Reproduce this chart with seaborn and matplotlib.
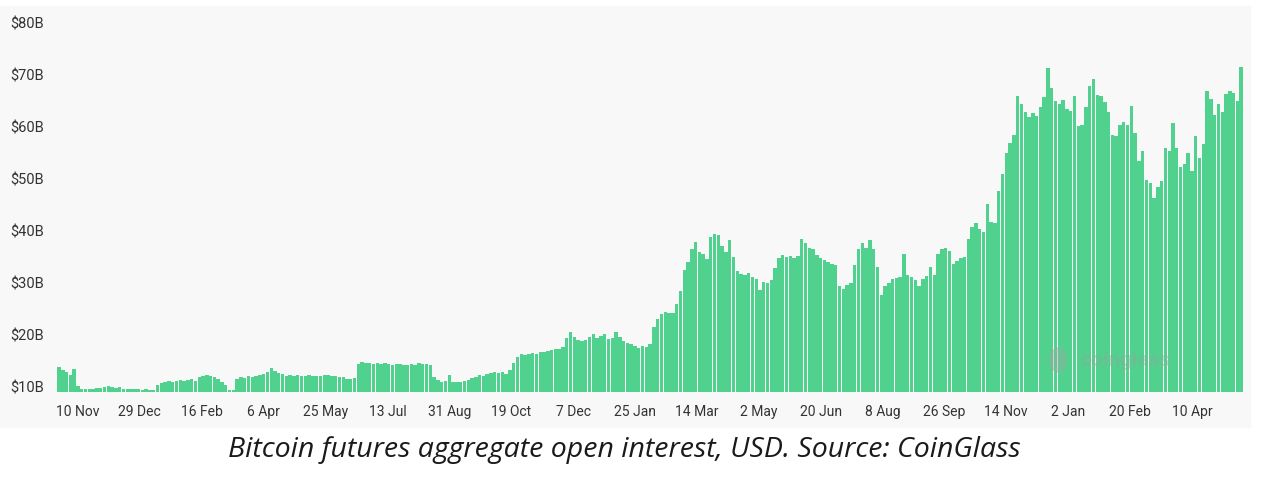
import numpy as np
import pandas as pd
import matplotlib
matplotlib.use("Agg")
import matplotlib.pyplot as plt
from matplotlib.patches import Rectangle, Ellipse
from matplotlib.transforms import ScaledTranslation
import seaborn as sns

# Bitcoin futures aggregate open interest (USD bn), one reading every 3 days
start_date = "2022-10-26"
step_days = 3
oi_billions = [
    14.8, 14.3, 13.9, 13.3, 14.5, 11.2, 10.6, 10.5, 10.6, 10.6,
    10.7, 10.8, 11.0, 11.1, 10.9, 10.8, 10.9, 10.6, 10.6, 10.5,
    10.6, 10.5, 10.4, 10.5, 10.3, 10.3, 11.3, 11.8, 12.0, 12.1,
    12.0, 12.2, 12.3, 12.1, 12.3, 12.6, 12.2, 12.8, 13.0, 13.3,
    13.0, 12.8, 12.6, 12.0, 11.4, 10.4, 10.3, 12.6, 12.9, 12.7,
    13.0, 12.8, 13.1, 13.2, 13.4, 13.9, 14.6, 14.0, 13.6, 13.4,
    13.1, 13.3, 13.0, 13.2, 13.1, 13.0, 13.2, 13.0, 13.1, 13.0,
    13.2, 13.3, 13.0, 13.1, 12.8, 12.9, 12.6, 12.5, 12.7, 15.3,
    15.8, 15.6, 15.5, 15.4, 15.6, 15.3, 15.5, 15.4, 15.2, 15.4,
    15.3, 15.2, 15.2, 15.3, 15.2, 15.6, 15.4, 15.3, 15.2, 12.8,
    12.3, 12.0, 12.1, 13.2, 12.0, 11.9, 12.0, 12.2, 12.4, 12.7,
    12.9, 13.2, 13.0, 13.4, 13.6, 13.8, 13.7, 13.9, 13.5, 14.2,
    15.6, 16.8, 17.3, 17.2, 17.4, 17.6, 17.4, 17.7, 17.8, 17.9,
    18.1, 18.3, 18.2, 18.6, 20.5, 21.5, 20.6, 20.0, 19.9, 20.1,
    20.6, 21.2, 20.5, 20.7, 21.2, 20.3, 20.4, 21.6, 20.6, 19.8,
    19.5, 19.2, 18.9, 18.5, 18.9, 18.7, 19.2, 22.5, 24.0, 25.0,
    25.4, 25.3, 25.2, 27.0, 29.5, 33.5, 35.0, 37.5, 38.9, 37.0,
    36.5, 35.6, 39.8, 40.5, 40.2, 38.2, 37.0, 39.3, 36.0, 33.3,
    32.8, 32.6, 32.9, 32.2, 31.8, 29.7, 31.2, 31.0, 31.6, 33.8,
    35.8, 36.4, 36.0, 36.2, 35.8, 36.3, 39.5, 38.8, 37.8, 37.5,
    36.4, 35.8, 35.5, 35.0, 34.6, 34.5, 30.5, 29.8, 30.6, 31.0,
    34.5, 37.5, 38.8, 37.8, 39.2, 37.5, 34.0, 28.7, 30.5, 31.0,
    31.8, 32.0, 32.2, 36.5, 32.5, 32.2, 31.5, 30.4, 31.8, 32.3,
    34.0, 32.6, 36.5, 37.6, 37.8, 37.2, 34.6, 35.2, 35.8, 36.0,
    39.5, 41.8, 42.6, 41.5, 40.8, 46.3, 42.8, 42.5, 48.8, 52.0,
    56.0, 58.0, 59.5, 67.0, 65.5, 64.0, 63.0, 63.8, 63.2, 65.0,
    66.8, 72.5, 68.5, 66.0, 65.5, 66.2, 64.5, 64.2, 67.0, 61.2,
    61.5, 65.0, 69.0, 70.4, 67.2, 67.0, 65.8, 64.0, 59.6, 59.4,
    61.5, 62.0, 61.4, 65.2, 60.0, 54.5, 56.4, 50.8, 50.2, 47.3,
    49.5, 50.6, 57.0, 56.5, 61.8, 57.0, 53.4, 54.0, 56.0, 52.5,
    59.4, 55.0, 57.8, 68.0, 66.5, 63.4, 65.5, 64.0, 67.5, 68.0,
    67.6, 66.0, 72.6,
]

tick_dates = ["2022-11-10", "2022-12-29", "2023-02-16", "2023-04-06", "2023-05-25",
              "2023-07-13", "2023-08-31", "2023-10-19", "2023-12-07", "2024-01-25",
              "2024-03-14", "2024-05-02", "2024-06-20", "2024-08-08", "2024-09-26",
              "2024-11-14", "2025-01-02", "2025-02-20", "2025-04-10"]
tick_labels = ["10 Nov", "29 Dec", "16 Feb", "6 Apr", "25 May", "13 Jul", "31 Aug",
               "19 Oct", "7 Dec", "25 Jan", "14 Mar", "2 May", "20 Jun", "8 Aug",
               "26 Sep", "14 Nov", "2 Jan", "20 Feb", "10 Apr"]
y_ticks = [10, 20, 30, 40, 50, 60, 70, 80]
caption = "Bitcoin futures aggregate open interest, USD. Source: CoinGlass"

bar_color = "#50d28e"
panel_color = "#f8f8f8"
text_color = "#333333"

sns.set_style("white")
plt.rcParams["font.family"] = ["Roboto", "DejaVu Sans"]

# day offsets from the first reading
t0 = pd.Timestamp(start_date)
days = np.arange(len(oi_billions)) * step_days
df = pd.DataFrame({"day": days, "oi": oi_billions})
tick_pos = [(pd.Timestamp(d) - t0).days for d in tick_dates]

W, H = 1280, 482
fig = plt.figure(figsize=(W / 100, H / 100), dpi=100, facecolor="white")
fig.patches.append(Rectangle((0, 1 - 427 / H), 1250 / W, (427 - 6) / H,
                             transform=fig.transFigure, color=panel_color, zorder=-5))

ax = fig.add_axes([56 / W, 1 - 392 / H, 1190 / W, (392 - 8) / H])
ax.set_facecolor("none")
ax.set_zorder(2)
sns.barplot(data=df, x="day", y="oi", native_scale=True, width=0.9,
            color=bar_color, saturation=1, linewidth=0, errorbar=None, ax=ax)

ax.set_xlim(-2.4, 939.8)
ax.set_ylim(10, 84)
for s in ax.spines.values():
    s.set_visible(False)
ax.set_xlabel("")
ax.set_ylabel("")

ax.set_xticks(tick_pos, labels=tick_labels)
ax.tick_params(axis="x", length=0, pad=9.5, labelsize=10, labelcolor=text_color)
ax.set_yticks(y_ticks, labels=[f"${v}B" for v in y_ticks])
ax.tick_params(axis="y", length=0, pad=33, labelsize=10.5, labelcolor=text_color)
lift = ScaledTranslation(0, 4 / 100, fig.dpi_scale_trans)
for lab in ax.get_yticklabels():
    lab.set_ha("left")
    lab.set_va("center")
    lab.set_transform(lab.get_transform() + lift)

# faint watermark
fig.patches.append(Ellipse((1058 / W, 1 - 360 / H), 16 / W, 24 / H,
                           transform=fig.transFigure, color="#9aa9a0",
                           alpha=0.45, zorder=5))
fig.text(1080 / W, 1 - 360 / H, "coinglass", ha="left", va="center",
         fontsize=15, fontweight="bold", color="#8fa79a", alpha=0.45, zorder=5)

fig.text(624 / W, 1 - 450 / H, caption, ha="center", va="center",
         fontsize=20.5, style="italic", family=["Open Sans", "DejaVu Sans"],
         color="#1a1a1a")

fig.savefig("out.png", dpi=100, facecolor="white")
